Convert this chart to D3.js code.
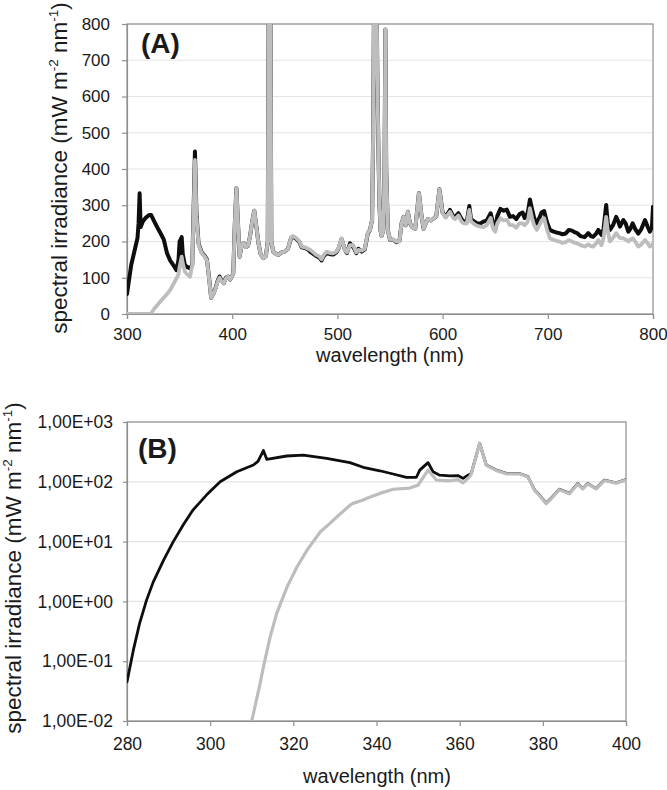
<!DOCTYPE html>
<html><head><meta charset="utf-8">
<script src="https://cdn.jsdelivr.net/npm/d3@7"></script>
<style>
body{margin:0;background:#fff}
svg{display:block}
text{font-family:"Liberation Sans",Arial,sans-serif;fill:#1a1a1a}
</style>
</head><body><svg id="c" width="667" height="790"></svg>
<script>
// ---------- Panel A data (wavelength nm, spectral irradiance mW m-2 nm-1) ----------
const aWl = [300,304,308,310,311,312,313,315,318,321,323,326,329,332,335,338,341,344,347,349,350,352,353,355,357,360,362,363,364.6,366,368,371,374,376,378,380,382,384,386,388,390,392,394,396,398,401,402.5,404,405.5,407,409,411,413,415,417,419,421,423,425,427,429.5,432,433.8,434.8,436.2,437.2,439,442,444,447,450,453,456,458,461,464,466,469,472,474,477,480,483,485,487,490,493,496,499,501,504,507,509,512,515,518,520,523,526,529,531,533,534,535,537,538,539,540,541,542,543.5,544.8,545.6,546.4,548,550,553,556,559,561,563,565,567,569,571,574,577.5,580,582,584,586,589,592,594,597,600,603,607,610,612,615,618,620,623,625.4,627,630,633,636,639,642,645.7,648,650,652,655,658,661,664,667,670,673,676,678,681,683,685,687,689.5,692,694,696.5,699,702,705,708,711,714,717,720,723,726,728,731,735,738.5,741,743,746,748,751,753,755.5,757,759,762,765,767,768.6,771.8,774,776.5,778.5,780.7,783,786,789,792.4,795,797,799,800];
const aBlack = [55,135,185,210,250,333,240,255,266,273,273,255,238,222,205,168,148,135,121,150,200,212,165,135,130,126,135,250,448,280,195,170,160,150,100,45,55,70,90,103,92,85,100,103,95,112,250,347,250,158,190,195,185,188,215,255,285,240,195,165,154,160,200,1000,1000,200,172,165,163,170,172,180,210,213,207,198,184,182,178,172,166,160,155,148,160,168,165,164,170,180,207,178,168,195,185,168,180,172,178,223,232,260,500,950,950,650,450,300,230,215,230,400,785,400,230,205,205,198,202,250,268,245,282,250,240,235,333,270,235,250,262,258,265,270,344,280,268,287,270,268,278,262,255,255,298,262,255,250,250,255,258,278,250,232,270,290,285,288,268,270,262,275,280,265,280,316,290,265,250,265,280,284,255,232,228,225,223,220,222,232,230,225,223,215,212,223,215,213,222,232,218,235,301,250,232,245,268,255,241,259,250,227,235,250,235,222,235,259,240,227,240,296];
const aGray  = [0,0,0,0,0,0,0,0,0,0,2,15,25,36,45,55,66,82,98,110,130,158,140,117,110,103,135,240,425,270,192,168,158,148,98,45,55,68,88,100,90,85,98,103,95,112,250,347,250,158,190,195,185,188,215,255,285,240,195,165,154,160,200,1000,1000,200,172,165,163,170,172,180,212,215,209,200,186,184,180,177,170,163,158,151,163,172,168,167,172,181,209,177,170,190,190,170,177,175,180,225,232,260,500,950,950,650,450,300,230,215,230,400,785,400,230,205,205,200,200,250,268,245,282,250,240,235,333,270,235,250,262,258,265,270,344,278,266,282,265,262,272,255,250,250,287,255,248,243,241,240,245,265,235,227,250,264,258,260,245,245,238,250,250,245,255,292,265,245,232,245,258,264,235,209,205,202,200,196,198,204,200,196,195,190,186,192,187,186,195,204,190,210,268,230,200,210,223,215,210,209,205,200,205,209,200,186,192,204,195,186,190,195];
const aXTicks = [300,400,500,600,700,800];
const aYTicks = [0,100,200,300,400,500,600,700,800];

// ---------- Panel B data (log scale) ----------
const bWlBlack = [280,281.5,283,284.7,286.3,288.8,291.1,293.5,295.9,299.1,302.4,306.4,310.4,311.5,312.8,313.6,318.4,322.4,328,333.6,336.8,340.8,344,347.2,349.6,350.4,352.4,353.6,355.2,357.6,359.6,360.8,362,362.8,364.8,366.4,368.8,371.2,374.4,376.4,378,379.2,380.8,382,384,386.4,388.4,389.6,390.8,392.8,394.8,397.6,400];
const bBlack   = [0.045,0.15,0.42,1.05,2.1,4.9,9.9,19,34,60,100,147,191,220,333,238,270,280,247,209,175,153,135,119,119,157,209,147,129,126,127,114,129,138,441,191,157,138,138,122,73,60,44,53,75,64,94,77,94,77,107,96,109];
const bWlGray  = [310,312,312.8,314.4,316,318.5,320.9,323.3,326.5,328.8,330.5,333.7,334.5,336.8,337.7,340.8,344,348,350,352.4,354.4,357.6,359.6,360.8,362.4,362.8,364.8,366.4,368.8,371.2,374.4,376.4,378,379.2,380.8,382,384,386.4,388.4,389.6,390.8,392.8,394.8,397.6,400];
const bGray    = [0.01,0.042,0.08,0.25,0.63,1.75,3.8,7.2,14.6,20.2,26,41,44,49.5,53,64,75,78.5,88,157,107,104,109,96,122,136,441,188,155,136,136,120,72,59,43,52,74,63,92,76,92,76,105,95,107];
const bXTicks = [280,300,320,340,360,380,400];
const bYTicks = [1e-2,1e-1,1e0,1e1,1e2,1e3];
const bYTickLabels = ["1,00E-02","1,00E-01","1,00E+00","1,00E+01","1,00E+02","1,00E+03"];

const panelLabels = ["(A)","(B)"];
const xTitle = "wavelength (nm)";

const svg = d3.select("#c");
const GRID = "#e4e4e4", AXIS = "#8f8f8f", BLACK = "#0e0e0e", GRAY = "#bdbdbd";

function yTitle(g, x, y, size){
  const t = g.append("text")
    .attr("transform", `translate(${x},${y}) rotate(-90)`)
    .attr("text-anchor","middle")
    .style("font-size", size+"px");
  t.append("tspan").text("spectral irradiance (mW m");
  t.append("tspan").attr("dy", -size*0.42).style("font-size",(size*0.6)+"px").text("-2");
  t.append("tspan").attr("dy", size*0.42).text(" nm");
  t.append("tspan").attr("dy", -size*0.42).style("font-size",(size*0.6)+"px").text("-1");
  t.append("tspan").attr("dy", size*0.42).text(")");
}

function panel(opts){
  const {x, y, xTicks, yTicks, yFmt, series, label, labelPos, id, tick, xTitlePos, yTitlePos, fs} = opts;
  const g = svg.append("g");
  const [x0,x1] = x.range(), [y0,y1] = y.range();
  g.append("clipPath").attr("id",id).append("rect")
    .attr("x",x0).attr("y",y1).attr("width",x1-x0).attr("height",y0-y1);
  g.append("g").selectAll("line").data(yTicks).join("line")
    .attr("x1",x0).attr("x2",x1).attr("y1",d=>y(d)).attr("y2",d=>y(d))
    .attr("stroke",GRID).attr("stroke-width",1.2);
  g.append("rect").attr("x",x0).attr("y",y1).attr("width",x1-x0).attr("height",y0-y1)
    .attr("fill","none").attr("stroke",AXIS).attr("stroke-width",1.2);
  const ax = g.append("g").attr("transform",`translate(0,${y0})`)
    .call(d3.axisBottom(x).tickValues(xTicks).tickSize(tick.xs).tickPadding(tick.xp).tickFormat(d3.format("d")));
  const ay = g.append("g").attr("transform",`translate(${x0},0)`)
    .call(d3.axisLeft(y).tickValues(yTicks).tickSize(tick.ys).tickPadding(tick.yp).tickFormat(yFmt));
  [ax,ay].forEach(a=>{
    a.select(".domain").attr("stroke",AXIS).attr("stroke-width",1.2);
    a.selectAll(".tick line").attr("stroke",AXIS).attr("stroke-width",1.2);
    a.selectAll(".tick text").style("font-size",fs+"px").style("font-family",'"Liberation Sans",Arial,sans-serif').attr("fill","#222");
  });
  const lg = g.append("g").attr("clip-path",`url(#${id})`);
  series.forEach(s=>{
    const pts = s.wl.map((w,i)=>[w,s.v[i]]);
    lg.append("path").datum(pts)
      .attr("d", d3.line().x(d=>x(d[0])).y(d=>y(d[1])))
      .attr("fill","none").attr("stroke",s.c).attr("stroke-width",s.w)
      .attr("stroke-linejoin","round").attr("stroke-linecap","round");
  });
  g.append("text").attr("x",labelPos[0]).attr("y",labelPos[1])
    .style("font-size","28px").style("font-weight","bold").attr("fill","#111").text(label);
  g.append("text").attr("x",xTitlePos[0]).attr("y",xTitlePos[1]).attr("text-anchor","middle")
    .style("font-size","20px").text(xTitle);
  yTitle(g, yTitlePos[0], yTitlePos[1], 22.5);
}

// Panel A
const xA = d3.scaleLinear().domain([300,800]).range([127,653]);
const yA = d3.scaleLinear().domain([0,800]).range([314,24]);
panel({x:xA,y:yA,xTicks:aXTicks,yTicks:aYTicks,yFmt:d3.format("d"),id:"clipA",
  series:[{wl:aWl,v:aBlack,c:BLACK,w:4},{wl:aWl,v:aGray,c:GRAY,w:3.8}],
  label:panelLabels[0],labelPos:[141,53],tick:{xs:5,xp:9,ys:5,yp:12},
  xTitlePos:[390,362],yTitlePos:[67,168],fs:17});

// Panel B
const xB = d3.scaleLinear().domain([280,400]).range([127,626]);
const yB = d3.scaleLog().domain([1e-2,1e3]).range([721,422]);
panel({x:xB,y:yB,xTicks:bXTicks,yTicks:bYTicks,yFmt:(d,i)=>bYTickLabels[i],id:"clipB",
  series:[{wl:bWlBlack,v:bBlack,c:BLACK,w:2.8},{wl:bWlGray,v:bGray,c:GRAY,w:3.2}],
  label:panelLabels[1],labelPos:[138,458],tick:{xs:5,xp:12,ys:4,yp:10},
  xTitlePos:[377,783],yTitlePos:[21,568],fs:17.5});
</script>
</body></html>
